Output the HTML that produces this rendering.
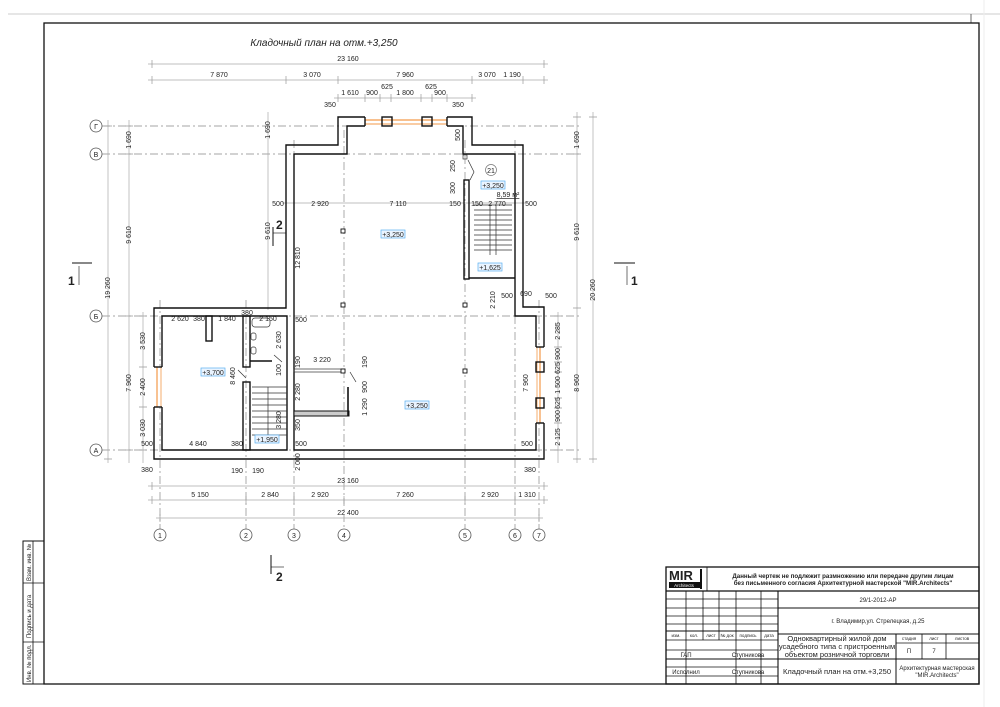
<!DOCTYPE html>
<html><head><meta charset="utf-8"><style>
html,body{margin:0;padding:0;background:#fff}
svg{display:block}
text{font-family:"Liberation Sans",Arial,sans-serif;fill:#222}
.d{font-size:7px}
.g{stroke:#aaa;stroke-width:.7;fill:none}
.ax{stroke:#888;stroke-width:.7;stroke-dasharray:8 3 2 3;fill:none}
.w{stroke:#111;stroke-width:1.4;fill:none}
.t{stroke:#333;stroke-width:.7;fill:none}
.tb{font-size:6px}
</style></head><body>
<svg width="1000" height="707" viewBox="0 0 1000 707" xmlns="http://www.w3.org/2000/svg">
<rect width="1000" height="707" fill="#fff"/>
<!-- sheet frame -->
<line x1="8" y1="14" x2="1000" y2="14" stroke="#ddd" stroke-width="1.5"/>
<line x1="971" y1="14" x2="971" y2="23" stroke="#444" stroke-width=".8"/>
<rect x="44" y="23" width="935" height="661" fill="none" stroke="#111" stroke-width="1.3"/>
<line x1="984" y1="0" x2="984" y2="707" stroke="#eee" stroke-width="1"/>
<!-- left stamp -->
<rect x="23" y="541" width="21" height="143" fill="none" stroke="#111" stroke-width="1"/>
<line x1="33" y1="541" x2="33" y2="684" stroke="#111" stroke-width=".8"/>
<line x1="23" y1="583" x2="44" y2="583" stroke="#111" stroke-width=".8"/>
<line x1="23" y1="642" x2="44" y2="642" stroke="#111" stroke-width=".8"/>
<text class="tb" transform="translate(31,581) rotate(-90)">Взам. инв. №</text>
<text class="tb" transform="translate(31,638) rotate(-90)">Подпись и дата</text>
<text class="tb" transform="translate(31,682) rotate(-90)">Инв. № подл.</text>

<!-- title -->
<text x="324" y="46" font-size="10" font-style="italic" text-anchor="middle">Кладочный план на отм.+3,250</text>

<!-- grid axes -->
<g class="ax">
<line x1="102" y1="126" x2="580" y2="126"/>
<line x1="102" y1="154" x2="580" y2="154"/>
<line x1="102" y1="316" x2="580" y2="316"/>
<line x1="102" y1="450" x2="580" y2="450"/>
<line x1="160" y1="300" x2="160" y2="529"/>
<line x1="246" y1="300" x2="246" y2="529"/>
<line x1="294" y1="140" x2="294" y2="529"/>
<line x1="344" y1="130" x2="344" y2="529"/>
<line x1="465" y1="140" x2="465" y2="529"/>
<line x1="515" y1="140" x2="515" y2="529"/>
<line x1="539" y1="300" x2="539" y2="529"/>
</g>
<g fill="#fff" stroke="#555" stroke-width=".8">
<circle cx="96" cy="126" r="6"/><circle cx="96" cy="154" r="6"/><circle cx="96" cy="316" r="6"/><circle cx="96" cy="450" r="6"/>
<circle cx="160" cy="535" r="6"/><circle cx="246" cy="535" r="6"/><circle cx="294" cy="535" r="6"/><circle cx="344" cy="535" r="6"/><circle cx="465" cy="535" r="6"/><circle cx="515" cy="535" r="6"/><circle cx="539" cy="535" r="6"/>
</g>
<g font-size="7" text-anchor="middle">
<text x="96" y="129">Г</text><text x="96" y="157">В</text><text x="96" y="319">Б</text><text x="96" y="453">А</text>
<text x="160" y="538">1</text><text x="246" y="538">2</text><text x="294" y="538">3</text><text x="344" y="538">4</text><text x="465" y="538">5</text><text x="515" y="538">6</text><text x="539" y="538">7</text>
</g>

<!-- dimension lines -->
<g class="g">
<line x1="148" y1="64" x2="548" y2="64"/>
<line x1="148" y1="80" x2="548" y2="80"/>
<line x1="334" y1="98" x2="476" y2="98"/>
<line x1="148" y1="486" x2="548" y2="486"/>
<line x1="148" y1="500" x2="548" y2="500"/>
<line x1="156" y1="518" x2="543" y2="518"/>
<line x1="108" y1="120" x2="108" y2="463"/>
<line x1="129" y1="120" x2="129" y2="463"/>
<line x1="143" y1="312" x2="143" y2="463"/>
<line x1="577" y1="112" x2="577" y2="463"/>
<line x1="593" y1="112" x2="593" y2="463"/>
<line x1="558" y1="312" x2="558" y2="463"/>
<line x1="282" y1="203" x2="527" y2="203"/>
<line x1="268" y1="112" x2="268" y2="310"/>
</g>
<g stroke="#999" stroke-width=".7">
<path d="M152 60v8M286 76v8M338 76v8M472 76v8M523 76v8M544 60v8M152 76v8M544 76v8"/>
<path d="M338 94v8M365 94v8M380 94v8M391 94v8M421 94v8M432 94v8M447 94v8M472 94v8"/>
<path d="M152 482v8M544 482v8M152 496v8M246 496v8M294 496v8M344 496v8M465 496v8M515 496v8M544 496v8M160 514v8M539 514v8"/>
<path d="M104 126h8M104 459h8M125 126h8M125 154h8M125 316h8M125 450h8M139 316h8M139 367h8M139 407h8M139 450h8"/>
<path d="M573 117h8M573 154h8M573 308h8M573 459h8M589 117h8M589 459h8M554 316h8M554 347h8M554 362h8M554 372h8M554 398h8M554 408h8M554 423h8M554 450h8"/>
</g>
<g class="d" text-anchor="middle">
<text x="348" y="61">23 160</text>
<text x="219" y="77">7 870</text><text x="312" y="77">3 070</text><text x="405" y="77">7 960</text><text x="487" y="77">3 070</text><text x="512" y="77">1 190</text>
<text x="350" y="95">1 610</text><text x="372" y="95">900</text><text x="387" y="89">625</text><text x="405" y="95">1 800</text><text x="431" y="89">625</text><text x="440" y="95">900</text>
<text x="330" y="107">350</text><text x="458" y="107">350</text>
<text x="348" y="483">23 160</text>
<text x="200" y="497">5 150</text><text x="270" y="497">2 840</text><text x="320" y="497">2 920</text><text x="405" y="497">7 260</text><text x="490" y="497">2 920</text><text x="527" y="497">1 310</text>
<text x="348" y="515">22 400</text>
<text x="147" y="472">380</text><text x="530" y="472">380</text><text x="237" y="473">190</text><text x="258" y="473">190</text>
<text x="278" y="206">500</text><text x="320" y="206">2 920</text><text x="398" y="206">7 110</text><text x="455" y="206">150</text><text x="477" y="206">150</text><text x="497" y="206">2 770</text><text x="531" y="206">500</text>
<text x="180" y="321">2 620</text><text x="199" y="321">380</text><text x="227" y="321">1 840</text><text x="247" y="315">380</text><text x="268" y="321">2 150</text><text x="301" y="322">500</text>
<text x="147" y="446">500</text><text x="198" y="446">4 840</text><text x="237" y="446">380</text><text x="301" y="446">500</text><text x="527" y="446">500</text>
<text x="322" y="362">3 220</text>
<text x="507" y="298">500</text><text x="526" y="296">690</text><text x="551" y="298">500</text>
</g>
<g class="d" text-anchor="middle">
<text transform="translate(131,140) rotate(-90)">1 690</text>
<text transform="translate(131,235) rotate(-90)">9 610</text>
<text transform="translate(131,383) rotate(-90)">7 960</text>
<text transform="translate(110,288) rotate(-90)">19 260</text>
<text transform="translate(145,341) rotate(-90)">3 530</text>
<text transform="translate(145,387) rotate(-90)">2 400</text>
<text transform="translate(145,428) rotate(-90)">3 030</text>
<text transform="translate(579,140) rotate(-90)">1 690</text>
<text transform="translate(579,232) rotate(-90)">9 610</text>
<text transform="translate(579,383) rotate(-90)">8 960</text>
<text transform="translate(595,290) rotate(-90)">20 260</text>
<text transform="translate(560,331) rotate(-90)">2 285</text>
<text transform="translate(560,354) rotate(-90)">900</text>
<text transform="translate(560,368) rotate(-90)">625</text>
<text transform="translate(560,385) rotate(-90)">1 500</text>
<text transform="translate(560,403) rotate(-90)">625</text>
<text transform="translate(560,416) rotate(-90)">900</text>
<text transform="translate(560,437) rotate(-90)">2 125</text>
<text transform="translate(270,130) rotate(-90)">1 690</text>
<text transform="translate(270,231) rotate(-90)">9 610</text>
<text transform="translate(300,258) rotate(-90)">12 810</text>
<text transform="translate(460,135) rotate(-90)">500</text>
<text transform="translate(455,166) rotate(-90)">250</text>
<text transform="translate(455,188) rotate(-90)">300</text>
<text transform="translate(495,300) rotate(-90)">2 210</text>
<text transform="translate(281,340) rotate(-90)">2 630</text>
<text transform="translate(281,370) rotate(-90)">100</text>
<text transform="translate(281,420) rotate(-90)">3 280</text>
<text transform="translate(235,376) rotate(-90)">8 460</text>
<text transform="translate(300,362) rotate(-90)">190</text>
<text transform="translate(367,362) rotate(-90)">190</text>
<text transform="translate(300,392) rotate(-90)">2 280</text>
<text transform="translate(367,387) rotate(-90)">900</text>
<text transform="translate(367,407) rotate(-90)">1 290</text>
<text transform="translate(300,425) rotate(-90)">350</text>
<text transform="translate(300,462) rotate(-90)">2 000</text>
<text transform="translate(528,383) rotate(-90)">7 960</text>
</g>

<!-- walls -->
<polygon class="w" points="338,117 472,117 472,145 523,145 523,307 544,307 544,459 154,459 154,308 286,308 286,145 338,145"/>
<polygon class="w" points="347,126 463,126 463,154 515,154 515,316 536,316 536,450 294,450 294,154 347,154"/>
<polygon class="w" points="162,316 287,316 287,450 162,450"/>
<!-- top windows -->
<rect x="365" y="116" width="82" height="12" fill="#fff"/>
<line x1="365" y1="120" x2="447" y2="120" stroke="#f39a4a" stroke-width="1.2"/>
<line x1="365" y1="124" x2="447" y2="124" stroke="#f39a4a" stroke-width="1"/>
<rect x="382" y="117" width="10" height="9" fill="#fff" class="w"/>
<rect x="422" y="117" width="10" height="9" fill="#fff" class="w"/>
<line x1="365" y1="117" x2="365" y2="126" class="w"/><line x1="447" y1="117" x2="447" y2="126" class="w"/>
<!-- left window -->
<rect x="153" y="367" width="10" height="40" fill="#fff"/>
<line x1="157" y1="367" x2="157" y2="407" stroke="#f39a4a" stroke-width="1.2"/>
<line x1="161" y1="367" x2="161" y2="407" stroke="#f39a4a" stroke-width=".8"/>
<line x1="154" y1="367" x2="162" y2="367" class="w"/><line x1="154" y1="407" x2="162" y2="407" class="w"/>
<!-- right windows -->
<rect x="535" y="347" width="10" height="76" fill="#fff"/>
<line x1="540" y1="347" x2="540" y2="423" stroke="#f39a4a" stroke-width="1.2"/>
<line x1="537" y1="347" x2="537" y2="423" stroke="#f39a4a" stroke-width=".8"/>
<rect x="536" y="362" width="8" height="10" fill="#fff" class="w"/>
<rect x="536" y="398" width="8" height="10" fill="#fff" class="w"/>
<line x1="536" y1="347" x2="544" y2="347" class="w"/><line x1="536" y1="423" x2="544" y2="423" class="w"/>

<!-- stair room walls (right) -->
<rect x="464" y="180" width="5" height="99" fill="#fff" class="w"/>
<line x1="469" y1="278" x2="515" y2="278" class="w"/>
<rect x="463" y="155" width="4" height="4" class="t"/>
<path d="M468 160 L474 172 L470 180" class="t"/>
<g class="t">
<path d="M474 205h38M474 210h38M474 215h38M474 220h38M474 225h38M474 230h38M474 235h38M474 240h38M474 245h38M474 250h38"/>
<line x1="490" y1="205" x2="490" y2="255"/><line x1="496" y1="205" x2="496" y2="255"/>
</g>
<circle cx="491" cy="170" r="5.5" fill="#fff" stroke="#777" stroke-width=".7"/>
<text x="491" y="173" font-size="7" text-anchor="middle">21</text>
<text x="508" y="197" font-size="7" text-anchor="middle" text-decoration="underline">8,59 м²</text>

<!-- left annex interior -->
<rect x="243" y="316" width="7" height="51" fill="#fff" class="w"/>
<rect x="243" y="382" width="7" height="68" fill="#fff" class="w"/>
<rect x="206" y="316" width="6" height="25" fill="#ddd" class="w"/>
<line x1="250" y1="361" x2="272" y2="361" stroke="#111" stroke-width="1.6"/>
<path d="M274 355 L282 362" class="t" stroke="#f39a4a"/>
<path d="M238 370 L246 378" class="t" stroke="#f39a4a"/>
<rect x="252" y="318" width="18" height="9" rx="3" class="t"/>
<rect x="251" y="333" width="5" height="7" rx="2" class="t"/>
<rect x="251" y="347" width="5" height="7" rx="2" class="t"/>
<g class="t">
<path d="M252 387h35M252 393h35M252 399h35M252 405h35M252 411h35M252 417h35M252 423h35M252 429h35M252 435h35"/>
<line x1="268" y1="387" x2="268" y2="440"/>
</g>

<!-- main interior partitions -->
<rect x="294" y="369" width="51" height="3" fill="#fff" class="t" stroke="#111"/>
<rect x="294" y="411" width="55" height="5" fill="#ccc" stroke="#111" stroke-width="1"/>
<line x1="348" y1="387" x2="348" y2="416" stroke="#111" stroke-width="1.6"/>
<path d="M350 372 L356 382" class="t" stroke="#f39a4a"/>
<g fill="#fff" stroke="#111" stroke-width=".9">
<rect x="341" y="229" width="4" height="4"/><rect x="341" y="303" width="4" height="4"/><rect x="463" y="303" width="4" height="4"/><rect x="463" y="369" width="4" height="4"/><rect x="341" y="369" width="4" height="4"/>
</g>

<!-- level marks -->
<g font-size="7" text-anchor="middle">
<rect x="381" y="230" width="24" height="8" fill="#eaf4ff" stroke="#5ab0f0" stroke-width=".7"/><text x="393" y="237">+3,250</text>
<rect x="405" y="401" width="24" height="8" fill="#eaf4ff" stroke="#5ab0f0" stroke-width=".7"/><text x="417" y="408">+3,250</text>
<rect x="201" y="368" width="24" height="8" fill="#eaf4ff" stroke="#5ab0f0" stroke-width=".7"/><text x="213" y="375">+3,700</text>
<rect x="255" y="435" width="24" height="8" fill="#eaf4ff" stroke="#5ab0f0" stroke-width=".7"/><text x="267" y="442">+1,950</text>
<rect x="481" y="181" width="24" height="8" fill="#eaf4ff" stroke="#5ab0f0" stroke-width=".7"/><text x="493" y="188">+3,250</text>
<rect x="478" y="263" width="24" height="8" fill="#eaf4ff" stroke="#5ab0f0" stroke-width=".7"/><text x="490" y="270">+1,625</text>
</g>

<!-- section marks -->
<g stroke="#111" stroke-width="1">
<line x1="72" y1="263" x2="92" y2="263"/><line x1="79" y1="266" x2="79" y2="285" stroke-width=".6"/>
<line x1="614" y1="263" x2="635" y2="263"/><line x1="627" y1="266" x2="627" y2="285" stroke-width=".6"/>
<line x1="273" y1="227" x2="273" y2="246"/><line x1="273" y1="233" x2="286" y2="233" stroke-width=".6"/>
<line x1="271" y1="555" x2="271" y2="574"/><line x1="271" y1="567" x2="284" y2="567" stroke-width=".6"/>
</g>
<g font-size="12" font-weight="bold">
<text x="68" y="285">1</text><text x="631" y="285">1</text><text x="276" y="229">2</text><text x="276" y="581">2</text>
</g>

<!-- title block -->
<g stroke="#111" fill="none">
<rect x="666" y="567" width="313" height="117" stroke-width="1.3"/>
<line x1="666" y1="591" x2="979" y2="591" stroke-width="1.2"/>
<line x1="778" y1="608" x2="979" y2="608" stroke-width="1"/>
<line x1="666" y1="631" x2="778" y2="631" stroke-width="1.1"/>
<line x1="778" y1="634" x2="979" y2="634" stroke-width="1"/>
<line x1="666" y1="659" x2="979" y2="659" stroke-width="1.1"/>
<line x1="896" y1="643" x2="979" y2="643" stroke-width=".7"/>
<line x1="778" y1="591" x2="778" y2="684" stroke-width="1.1"/>
<line x1="896" y1="634" x2="896" y2="684" stroke-width="1"/>
<line x1="922" y1="634" x2="922" y2="659" stroke-width=".8"/>
<line x1="946" y1="634" x2="946" y2="659" stroke-width=".8"/>
<g stroke-width=".8">
<line x1="686" y1="591" x2="686" y2="684"/><line x1="703" y1="591" x2="703" y2="640"/><line x1="719" y1="591" x2="719" y2="640"/><line x1="736" y1="591" x2="736" y2="684"/><line x1="761" y1="591" x2="761" y2="684"/>
<line x1="666" y1="599" x2="778" y2="599"/><line x1="666" y1="608" x2="778" y2="608"/><line x1="666" y1="616" x2="778" y2="616"/><line x1="666" y1="624" x2="778" y2="624"/><line x1="666" y1="640" x2="778" y2="640"/><line x1="666" y1="650" x2="778" y2="650"/><line x1="666" y1="667" x2="778" y2="667"/><line x1="666" y1="676" x2="778" y2="676"/>
</g>
<line x1="707" y1="567" x2="707" y2="591" stroke-width=".8"/>
</g>
<text x="669" y="580" font-size="13" font-weight="bold" font-family="Liberation Sans">MIR</text>
<rect x="669" y="582" width="31" height="6" fill="#111"/>
<text x="684" y="587" font-size="4.5" text-anchor="middle" style="fill:#fff">Architects</text>
<line x1="701" y1="569" x2="701" y2="589" stroke="#111" stroke-width="2"/>
<g font-size="6.2" font-weight="bold" text-anchor="middle">
<text x="843" y="578">Данный чертеж не подлежит размножению или передаче другим лицам</text>
<text x="843" y="585">без письменного согласия Архитектурной мастерской "MIR.Architects"</text>
</g>
<g font-size="4.5" text-anchor="middle">
<text x="676" y="637">изм.</text><text x="694" y="637">кол.</text><text x="711" y="637">лист</text><text x="727" y="637">№ док</text><text x="748" y="637">подпись</text><text x="769" y="637">дата</text>
<text x="909" y="640">стадия</text><text x="934" y="640">лист</text><text x="962" y="640">листов</text>
</g>
<g font-size="6" text-anchor="middle">
<text x="686" y="657">ГАП</text><text x="748" y="657">Ступникова</text>
<text x="686" y="674">Исполнил</text><text x="748" y="674">Ступникова</text>
<text x="878" y="602">29/1-2012-АР</text>
<text x="878" y="623">г. Владимир,ул. Стрелецкая, д.25</text>
<text x="909" y="653">П</text><text x="934" y="653">7</text>
<text x="937" y="670">Архитектурная мастерская</text>
<text x="937" y="677">"MIR.Architects"</text>
</g>
<g font-size="7.5" text-anchor="middle">
<text x="837" y="641">Одноквартирный жилой дом</text>
<text x="837" y="649">усадебного типа с пристроенным</text>
<text x="837" y="657">объектом розничной торговли</text>
<text x="837" y="674">Кладочный план на отм.+3,250</text>
</g>
</svg>
</body></html>
